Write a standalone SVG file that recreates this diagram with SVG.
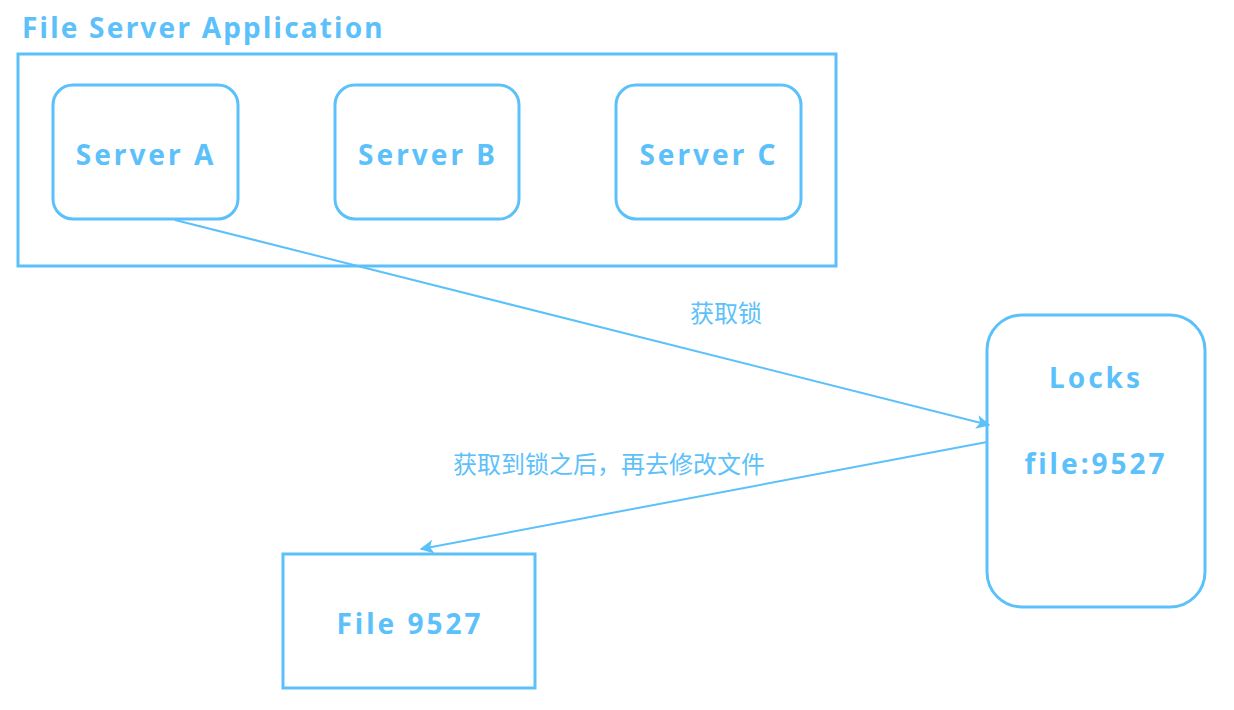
<svg xmlns="http://www.w3.org/2000/svg" width="1234" height="710" viewBox="0 0 1234 710">
<defs>
<style>
.box{fill:none;stroke:#5cc1fa;stroke-width:3}
.lbl{font-family:"Comic Sans MS","Noto Sans","DejaVu Sans",sans-serif;font-weight:bold;fill:#5cc1fa;font-size:28px;letter-spacing:3px;text-anchor:middle;dominant-baseline:central}
.cn{font-family:"Noto Sans CJK SC",sans-serif;fill:#5cc1fa;font-size:24px;text-anchor:middle;dominant-baseline:central}
.edge{fill:none;stroke:#5cc1fa;stroke-width:2}
</style>
<marker id="ah2" viewBox="0 0 10 10" refX="9" refY="5" markerWidth="14" markerHeight="14" orient="auto" markerUnits="userSpaceOnUse">
<path d="M0,0 L10,5 L0,10 L2.5,5 Z" fill="#5cc1fa"/>
</marker>
</defs>
<rect width="1234" height="710" fill="#ffffff"/>
<g id="app">
<text x="22" y="27" class="lbl" style="text-anchor:start;letter-spacing:2.2px">File Server Application</text>
<rect class="box" x="18" y="54" width="818" height="212"/>
</g>
<g id="serverA">
<rect class="box" x="53" y="85" width="185" height="134" rx="20"/>
<text class="lbl" x="146" y="154">Server A</text>
</g>
<g id="serverB">
<rect class="box" x="335" y="85" width="184" height="134" rx="20"/>
<text class="lbl" x="428" y="154">Server B</text>
</g>
<g id="serverC">
<rect class="box" x="616" y="85" width="185" height="134" rx="20"/>
<text class="lbl" x="709" y="154">Server C</text>
</g>
<g id="locks">
<rect class="box" x="987" y="315" width="218" height="292" rx="35"/>
<text class="lbl" x="1096" y="377">Locks</text>
<text class="lbl" x="1096" y="463">file:9527</text>
</g>
<g id="file">
<rect class="box" x="283" y="554" width="252" height="134"/>
<text class="lbl" x="410" y="623">File 9527</text>
</g>
<g id="connectors">
<line class="edge" x1="175" y1="220" x2="989" y2="425" marker-end="url(#ah2)"/>
<text class="cn" x="726" y="311">获取锁</text>
<line class="edge" x1="987" y1="442" x2="421" y2="549" marker-end="url(#ah2)"/>
<text class="cn" x="609" y="462">获取到锁之后，再去修改文件</text>
</g>
</svg>
